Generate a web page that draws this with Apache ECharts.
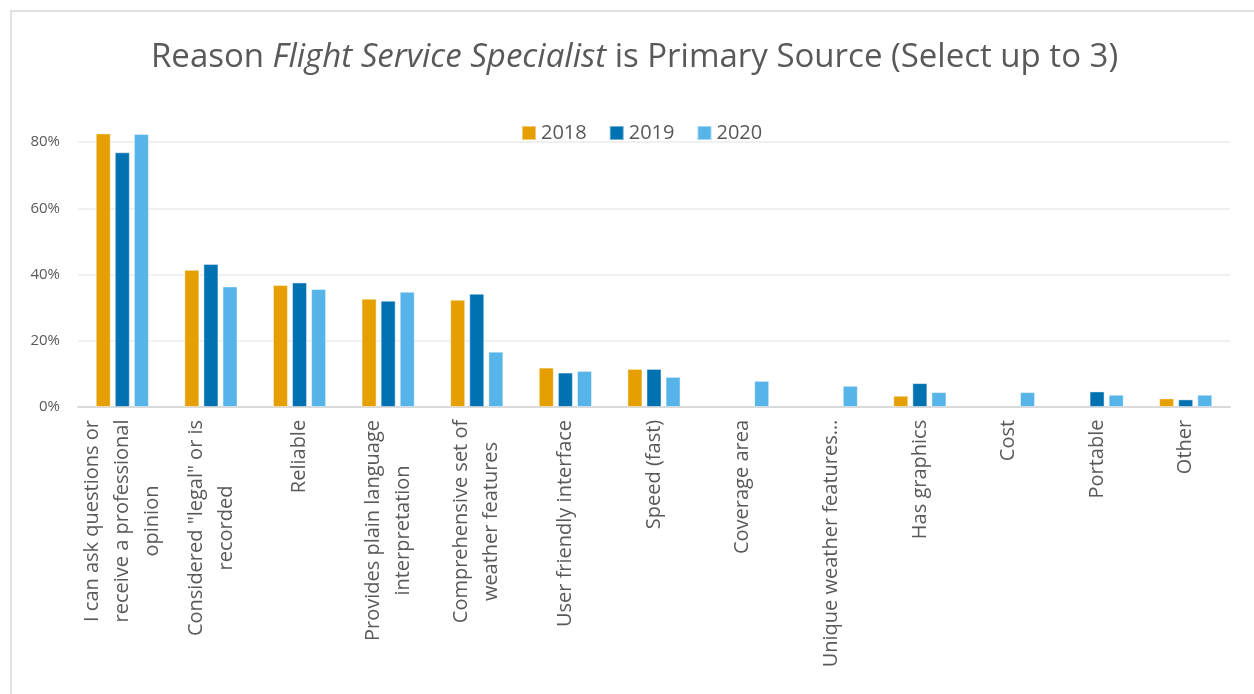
<!DOCTYPE html>
<html>
<head>
<meta charset="utf-8">
<script src="https://cdn.jsdelivr.net/npm/echarts@6/dist/echarts.min.js"></script>
<style>
  html, body { margin: 0; padding: 0; background: #fff; }
  #main { width: 1254px; height: 694px; }
</style>
</head>
<body>
<div id="main"></div>
<script>
// categories (x axis)
var categories = [
    "I can ask questions or\nreceive a professional\nopinion",
    "Considered \"legal\" or is\nrecorded",
    "Reliable",
    "Provides plain language\ninterpretation",
    "Comprehensive set of\nweather features",
    "User friendly interface",
    "Speed (fast)",
    "Coverage area",
    "Unique weather features…",
    "Has graphics",
    "Cost",
    "Portable",
    "Other"
];

// percent values per year
var years = ["2018", "2019", "2020"];
var values2018 = [82.6, 41.4, 36.8, 32.7, 32.4, 11.9, 11.5, null, null, 3.4, null, null, 2.6];
var values2019 = [76.9, 43.2, 37.6, 32.1, 34.2, 10.4, 11.5, null, null, 7.2, null, 4.7, 2.3];
var values2020 = [82.4, 36.4, 35.6, 34.8, 16.7, 10.9, 9.1, 7.9, 6.4, 4.5, 4.5, 3.7, 3.7];

var colors = ["#E69F00", "#0072B2", "#56B4E9"];
var txt = "#595959";
var labelSize = 20;

var chart = echarts.init(document.getElementById("main"));

// each multi-line label gets its own rich style, as wide as its longest line,
// so the lines are centred on each other like in Excel
var ctx = document.createElement("canvas").getContext("2d");
ctx.font = labelSize + "px 'Open Sans'";
var rich = {};
categories.forEach(function (c, i) {
    var w = 0;
    c.split("\n").forEach(function (s) { w = Math.max(w, ctx.measureText(s).width); });
    rich["c" + i] = { align: "center", width: Math.ceil(w) + 1, fontSize: labelSize, lineHeight: 30, color: txt, fontFamily: "Open Sans" };
});

function mkSeries(name, data, color) {
    return {
        name: name,
        type: "bar",
        data: data,
        clip: false,
        barGap: "27%",
        barCategoryGap: "40%",
        itemStyle: { color: color, borderColor: "rgba(255,255,255,0.45)", borderWidth: 1 }
    };
}

var option = {
    animation: false,
    textStyle: { fontFamily: "Open Sans" },
    graphic: [{
        type: "rect",
        shape: { x: 11, y: 11, width: 1400, height: 900 },
        style: { fill: null, stroke: "#d9d9d9", lineWidth: 1.5 },
        silent: true
    }],
    title: {
        left: 146,
        top: 36,
        text: "{a|Reason }{b|Flight Service Specialist}{a| is Primary Source (Select up to 3)}",
        textStyle: {
            rich: {
                a: { fontSize: 33, color: txt, fontFamily: "Open Sans", fontWeight: "normal" },
                b: { fontSize: 33, color: txt, fontFamily: "Open Sans", fontWeight: "normal", fontStyle: "italic" }
            }
        }
    },
    legend: {
        left: 516,
        top: 118,
        itemWidth: 14,
        itemHeight: 14,
        itemGap: 22,
        icon: "rect",
        textStyle: { color: txt, fontSize: 20, fontFamily: "Open Sans" },
        data: years
    },
    grid: { left: 78, right: 24, top: 142, bottom: 287 },
    xAxis: {
        type: "category",
        data: categories,
        axisLine: { lineStyle: { color: "#d9d9d9", width: 2 } },
        axisTick: { show: false },
        axisLabel: {
            interval: 0,
            rotate: 90,
            margin: 12,
            formatter: function (v, i) {
                return v.split("\n").map(function (s) { return "{c" + i + "|" + s + "}"; }).join("\n");
            },
            rich: rich
        }
    },
    yAxis: {
        type: "value",
        min: 0,
        max: 80,
        interval: 20,
        axisLine: { show: false },
        axisTick: { show: false },
        axisLabel: { formatter: "{value}%", color: txt, fontSize: 15, margin: 18 },
        splitLine: { lineStyle: { color: "#ebebeb", width: 1.5 } }
    },
    series: [
        mkSeries(years[0], values2018, colors[0]),
        mkSeries(years[1], values2019, colors[1]),
        mkSeries(years[2], values2020, colors[2])
    ]
};

chart.setOption(option);
</script>
</body>
</html>
